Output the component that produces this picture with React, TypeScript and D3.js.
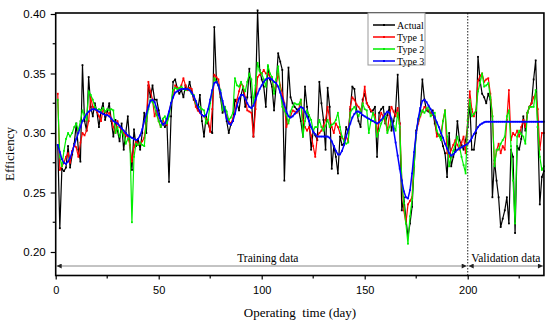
import React, { useRef, useEffect } from 'react';
import * as d3 from 'd3';

// daily values, day 1 .. 237
const actual = [
  0.29, 0.22, 0.27, 0.268, 0.271, 0.289, 0.271, 0.282, 0.291, 0.308,
  0.286, 0.276, 0.357, 0.31, 0.302, 0.347, 0.322, 0.314, 0.325, 0.318,
  0.305, 0.319, 0.325, 0.311, 0.318, 0.325, 0.31, 0.297, 0.311, 0.302,
  0.293, 0.308, 0.286, 0.3, 0.314, 0.29, 0.269, 0.303, 0.289, 0.295,
  0.286, 0.3, 0.317, 0.3, 0.34, 0.33, 0.34, 0.328, 0.328, 0.319,
  0.31, 0.308, 0.305, 0.308, 0.259, 0.314, 0.343, 0.345, 0.338, 0.333,
  0.336, 0.33, 0.34, 0.336, 0.343, 0.335, 0.328, 0.325, 0.319, 0.332,
  0.31, 0.297, 0.314, 0.308, 0.302, 0.3, 0.389, 0.345, 0.34, 0.33,
  0.317, 0.322, 0.31, 0.3, 0.307, 0.31, 0.328, 0.325, 0.319, 0.332,
  0.339, 0.322, 0.33, 0.354, 0.33, 0.297, 0.33, 0.403, 0.353, 0.345,
  0.339, 0.322, 0.356, 0.345, 0.339, 0.319, 0.34, 0.367, 0.36, 0.353,
  0.26, 0.316, 0.355, 0.33, 0.325, 0.322, 0.32, 0.319, 0.31, 0.297,
  0.339, 0.322, 0.31, 0.286, 0.302, 0.298, 0.294, 0.343, 0.325, 0.311,
  0.286, 0.338, 0.322, 0.27, 0.289, 0.28, 0.266, 0.297, 0.29, 0.291,
  0.305, 0.3, 0.32, 0.339, 0.337, 0.319, 0.31, 0.305, 0.328, 0.333,
  0.325, 0.322, 0.318, 0.319, 0.322, 0.28, 0.317, 0.32, 0.322, 0.308,
  0.315, 0.322, 0.302, 0.31, 0.319, 0.349, 0.308, 0.235, 0.246, 0.228,
  0.213, 0.224, 0.238, 0.272, 0.302, 0.31, 0.319, 0.345, 0.328, 0.319,
  0.318, 0.317, 0.319, 0.308, 0.3, 0.298, 0.297, 0.289, 0.283, 0.263,
  0.3, 0.272, 0.28, 0.286, 0.31, 0.294, 0.29, 0.286, 0.294, 0.305,
  0.325, 0.286, 0.286, 0.3, 0.364, 0.344, 0.333, 0.33, 0.325, 0.333,
  0.328, 0.246, 0.277, 0.26, 0.246, 0.221, 0.228, 0.235, 0.246, 0.224,
  0.286, 0.28, 0.216, 0.289, 0.286, 0.295, 0.314, 0.302, 0.317, 0.322,
  0.325, 0.345, 0.361, 0.305, 0.24, 0.263, 0.268,
];

const type1 = [
  0.333, 0.269, 0.272, 0.275, 0.28, 0.283, 0.275, 0.285, 0.29, 0.288,
  0.28, 0.292, 0.3, 0.298, 0.302, 0.31, 0.33, 0.322, 0.32, 0.318,
  0.314, 0.31, 0.32, 0.318, 0.315, 0.317, 0.312, 0.305, 0.3, 0.31,
  0.305, 0.302, 0.3, 0.298, 0.297, 0.29, 0.276, 0.288, 0.294, 0.29,
  0.291, 0.293, 0.296, 0.31, 0.343, 0.335, 0.328, 0.314, 0.319, 0.31,
  0.305, 0.311, 0.308, 0.307, 0.317, 0.325, 0.33, 0.34, 0.338, 0.337,
  0.34, 0.346, 0.34, 0.336, 0.338, 0.337, 0.33, 0.322, 0.319, 0.317,
  0.315, 0.314, 0.312, 0.311, 0.301, 0.32, 0.349, 0.347, 0.345, 0.333,
  0.325, 0.319, 0.314, 0.31, 0.308, 0.312, 0.317, 0.328, 0.335, 0.342,
  0.339, 0.33, 0.319, 0.318, 0.317, 0.297, 0.32, 0.347, 0.349, 0.35,
  0.353, 0.35, 0.35, 0.347, 0.345, 0.336, 0.34, 0.35, 0.34, 0.333,
  0.325, 0.305, 0.31, 0.314, 0.319, 0.318, 0.317, 0.32, 0.328, 0.311,
  0.305, 0.302, 0.305, 0.298, 0.289, 0.28, 0.297, 0.3, 0.302, 0.306,
  0.311, 0.322, 0.312, 0.305, 0.3, 0.308, 0.305, 0.3, 0.296, 0.294,
  0.297, 0.293, 0.322, 0.33, 0.328, 0.324, 0.322, 0.319, 0.325, 0.339,
  0.325, 0.322, 0.319, 0.317, 0.315, 0.3, 0.31, 0.317, 0.314, 0.31,
  0.302, 0.315, 0.322, 0.318, 0.314, 0.321, 0.308, 0.26, 0.235, 0.224,
  0.24, 0.243, 0.246, 0.28, 0.3, 0.308, 0.314, 0.318, 0.322, 0.32,
  0.319, 0.317, 0.315, 0.314, 0.297, 0.298, 0.3, 0.31, 0.319, 0.283,
  0.28, 0.286, 0.29, 0.294, 0.29, 0.286, 0.292, 0.297, 0.283, 0.31,
  0.335, 0.32, 0.314, 0.319, 0.344, 0.348, 0.35, 0.343, 0.345, 0.346,
  0.333, 0.314, 0.274, 0.285, 0.291, 0.283, 0.289, 0.286, 0.311, 0.336,
  0.294, 0.3, 0.298, 0.302, 0.297, 0.305, 0.311, 0.305, 0.317, 0.322,
  0.325, 0.33, 0.333, 0.32, 0.286, 0.3, 0.3,
];

const type2 = [
  0.328, 0.28, 0.272, 0.285, 0.295, 0.3, 0.297, 0.3, 0.305, 0.308,
  0.302, 0.31, 0.319, 0.315, 0.311, 0.335, 0.332, 0.328, 0.322, 0.319,
  0.32, 0.319, 0.321, 0.318, 0.32, 0.319, 0.32, 0.319, 0.3, 0.305,
  0.297, 0.302, 0.298, 0.291, 0.295, 0.297, 0.225, 0.28, 0.291, 0.29,
  0.292, 0.29, 0.289, 0.31, 0.32, 0.328, 0.326, 0.322, 0.315, 0.31,
  0.305, 0.312, 0.314, 0.308, 0.314, 0.325, 0.336, 0.338, 0.337, 0.338,
  0.339, 0.337, 0.336, 0.337, 0.336, 0.333, 0.332, 0.325, 0.322, 0.322,
  0.32, 0.319, 0.308, 0.311, 0.325, 0.335, 0.346, 0.343, 0.34, 0.336,
  0.319, 0.322, 0.318, 0.311, 0.313, 0.317, 0.346, 0.34, 0.339, 0.343,
  0.338, 0.335, 0.343, 0.35, 0.345, 0.325, 0.34, 0.359, 0.352, 0.35,
  0.345, 0.339, 0.357, 0.35, 0.347, 0.333, 0.345, 0.356, 0.335, 0.322,
  0.319, 0.315, 0.308, 0.318, 0.322, 0.325, 0.324, 0.324, 0.328, 0.297,
  0.31, 0.319, 0.315, 0.311, 0.302, 0.305, 0.305, 0.311, 0.305, 0.302,
  0.306, 0.311, 0.305, 0.307, 0.308, 0.311, 0.317, 0.305, 0.297, 0.293,
  0.291, 0.292, 0.317, 0.32, 0.322, 0.318, 0.314, 0.318, 0.325, 0.32,
  0.319, 0.3, 0.31, 0.317, 0.311, 0.297, 0.302, 0.308, 0.312, 0.314,
  0.3, 0.305, 0.311, 0.306, 0.302, 0.317, 0.305, 0.26, 0.241, 0.224,
  0.207, 0.23, 0.244, 0.272, 0.3, 0.311, 0.315, 0.319, 0.317, 0.32,
  0.322, 0.314, 0.316, 0.317, 0.302, 0.298, 0.294, 0.31, 0.319, 0.297,
  0.272, 0.28, 0.285, 0.291, 0.297, 0.289, 0.28, 0.273, 0.266, 0.311,
  0.328, 0.314, 0.316, 0.319, 0.335, 0.342, 0.35, 0.339, 0.34, 0.342,
  0.33, 0.314, 0.272, 0.286, 0.286, 0.291, 0.294, 0.297, 0.314, 0.319,
  0.289, 0.26, 0.224, 0.297, 0.302, 0.299, 0.297, 0.291, 0.317, 0.322,
  0.322, 0.322, 0.336, 0.305, 0.28, 0.269, 0.272,
];

const type3 = [
  0.29, 0.284, 0.278, 0.275, 0.274, 0.276, 0.279, 0.284, 0.29, 0.295,
  0.3, 0.305, 0.31, 0.313, 0.316, 0.318, 0.319, 0.32, 0.32, 0.319,
  0.318, 0.317, 0.316, 0.315, 0.315, 0.314, 0.312, 0.31, 0.309, 0.308,
  0.306, 0.304, 0.302, 0.3, 0.298, 0.297, 0.296, 0.295, 0.294, 0.295,
  0.298, 0.303, 0.31, 0.316, 0.322, 0.327, 0.328, 0.326, 0.321, 0.315,
  0.31, 0.307, 0.308, 0.312, 0.318, 0.325, 0.33, 0.334, 0.335, 0.336,
  0.337, 0.337, 0.337, 0.337, 0.336, 0.334, 0.331, 0.327, 0.322, 0.318,
  0.315, 0.314, 0.315, 0.32, 0.328, 0.336, 0.342, 0.343, 0.34, 0.334,
  0.327, 0.319, 0.312, 0.308, 0.307, 0.31, 0.316, 0.323, 0.329, 0.332,
  0.332, 0.329, 0.325, 0.322, 0.321, 0.323, 0.328, 0.333, 0.337, 0.34,
  0.343, 0.345, 0.346, 0.346, 0.345, 0.343, 0.342, 0.339, 0.334, 0.329,
  0.324, 0.318, 0.314, 0.313, 0.314, 0.316, 0.318, 0.32, 0.322, 0.321,
  0.318, 0.314, 0.31, 0.305, 0.301, 0.299, 0.297, 0.297, 0.297, 0.297,
  0.297, 0.297, 0.296, 0.293, 0.289, 0.285, 0.282, 0.282, 0.285, 0.29,
  0.297, 0.303, 0.308, 0.313, 0.316, 0.318, 0.318, 0.317, 0.315, 0.314,
  0.313, 0.312, 0.311, 0.31, 0.309, 0.308, 0.309, 0.311, 0.313, 0.316,
  0.318, 0.317, 0.312, 0.303, 0.292, 0.281, 0.27, 0.26, 0.251, 0.246,
  0.245, 0.252, 0.266, 0.284, 0.3, 0.312, 0.321, 0.327, 0.328, 0.326,
  0.323, 0.32, 0.317, 0.313, 0.309, 0.305, 0.3, 0.296, 0.291, 0.287,
  0.283, 0.281, 0.282, 0.284, 0.286, 0.287, 0.288, 0.289, 0.29, 0.291,
  0.293, 0.296, 0.299, 0.302, 0.305, 0.307, 0.308, 0.309, 0.3095, 0.3095,
  0.3095, 0.3095, 0.3095, 0.3095, 0.3095, 0.3095, 0.3095, 0.3095, 0.3095, 0.3095,
  0.3095, 0.3095, 0.3095, 0.3095, 0.3095, 0.3095, 0.3095, 0.3095, 0.3095, 0.3095,
  0.3095, 0.3095, 0.3095, 0.3095, 0.3095, 0.3095, 0.3095,
];

const seriesNames = ['Actual', 'Type 1', 'Type 2', 'Type 3'];
const seriesColors = ['#000000', '#ff0000', '#00ee00', '#0000ff'];
const xTicks = [0, 50, 100, 150, 200];
const xMinor = [25, 75, 125, 175, 225];
const yTicks = [0.2, 0.25, 0.3, 0.35, 0.4];
const yMinor = [0.225, 0.275, 0.325, 0.375];
const splitDay = 200;
const lastDay = 237;

const serif = '"Liberation Serif", "Times New Roman", serif';
const sans = '"Liberation Sans", Arial, sans-serif';

const App = () => {
  const ref = useRef(null);

  useEffect(() => {
    if (!ref.current) return;
    const svg = d3.select(ref.current);
    svg.selectAll('*').remove();

    const x = d3.scaleLinear().domain([0, 200]).range([55.7, 467.7]);
    const y = d3.scaleLinear().domain([0.2, 0.4]).range([252, 14]);
    const left = x(0), right = x(lastDay), top = 13, bottom = 275.5;

    const defs = svg.append('defs');
    defs.append('marker')
      .attr('id', 'arr')
      .attr('viewBox', '0 0 10 10')
      .attr('refX', 10).attr('refY', 5)
      .attr('markerWidth', 7).attr('markerHeight', 5)
      .attr('markerUnits', 'userSpaceOnUse')
      .attr('orient', 'auto-start-reverse')
      .append('path')
      .attr('d', 'M0,0 L10,5 L0,10 z')
      .attr('fill', '#222');

    // series
    const all = [actual, type1, type2, type3];
    const line = d3.line<number>()
      .x((d, i) => x(i + 1))
      .y(d => y(d));

    all.forEach((vals, k) => {
      svg.append('path')
        .datum(vals)
        .attr('fill', 'none')
        .attr('stroke', seriesColors[k])
        .attr('stroke-width', k === 3 ? 1.5 : 1.2)
        .attr('stroke-linejoin', 'round')
        .attr('d', line);
      svg.append('g')
        .selectAll('rect')
        .data(vals)
        .enter()
        .append('rect')
        .attr('x', (d, i) => x(i + 1) - 0.9)
        .attr('y', d => y(d) - 0.9)
        .attr('width', 1.8)
        .attr('height', 1.8)
        .attr('fill', seriesColors[k]);
    });

    // split line
    svg.append('line')
      .attr('x1', x(splitDay)).attr('x2', x(splitDay))
      .attr('y1', top).attr('y2', bottom)
      .attr('stroke', '#444')
      .attr('stroke-width', 1.2)
      .attr('stroke-dasharray', '1.5,1.5');

    // data range arrows
    const arrowY = 266;
    [[0, splitDay], [splitDay, lastDay]].forEach(([a, b]) => {
      svg.append('line')
        .attr('x1', x(a) + 1).attr('x2', x(b) - 1)
        .attr('y1', arrowY).attr('y2', arrowY)
        .attr('stroke', '#888')
        .attr('stroke-width', 1)
        .attr('marker-start', 'url(#arr)')
        .attr('marker-end', 'url(#arr)');
    });
    svg.append('text')
      .attr('x', x(103)).attr('y', 262)
      .attr('text-anchor', 'middle')
      .attr('font-family', serif).attr('font-size', 11.5)
      .text('Training data');
    svg.append('text')
      .attr('x', x(218.5)).attr('y', 262)
      .attr('text-anchor', 'middle')
      .attr('font-family', serif).attr('font-size', 11.5)
      .text('Validation data');

    // frame
    svg.append('rect')
      .attr('x', left).attr('y', top)
      .attr('width', right - left).attr('height', bottom - top)
      .attr('fill', 'none')
      .attr('stroke', '#000')
      .attr('stroke-width', 1.6);

    // axes
    const xAxis = svg.append('g')
      .attr('transform', `translate(0,${bottom})`)
      .call(d3.axisBottom(x).tickValues(xTicks).tickSize(4).tickPadding(7).tickFormat(d3.format('d')));
    xAxis.select('.domain').remove();
    xAxis.selectAll('line').attr('stroke-width', 1.2);
    xAxis.selectAll('text').attr('font-family', sans).attr('font-size', 11).attr('fill', '#000');
    svg.append('g').selectAll('line').data(xMinor).enter().append('line')
      .attr('x1', d => x(d)).attr('x2', d => x(d))
      .attr('y1', bottom).attr('y2', bottom + 3)
      .attr('stroke', '#000').attr('stroke-width', 1.2);

    const yAxis = svg.append('g')
      .attr('transform', `translate(${left},0)`)
      .call(d3.axisLeft(y).tickValues(yTicks).tickSize(5).tickPadding(5).tickFormat(d3.format('.2f')));
    yAxis.select('.domain').remove();
    yAxis.selectAll('line').attr('stroke-width', 1.2);
    yAxis.selectAll('text').attr('font-family', sans).attr('font-size', 11.5).attr('fill', '#000');
    svg.append('g').selectAll('line').data(yMinor).enter().append('line')
      .attr('x1', left - 3).attr('x2', left)
      .attr('y1', d => y(d)).attr('y2', d => y(d))
      .attr('stroke', '#000').attr('stroke-width', 1.2);

    svg.append('text')
      .attr('transform', 'translate(14,154) rotate(-90)')
      .attr('text-anchor', 'middle')
      .attr('font-family', serif).attr('font-size', 13)
      .text('Efficiency');
    svg.append('text')
      .attr('x', 300).attr('y', 317)
      .attr('text-anchor', 'middle')
      .attr('font-family', serif).attr('font-size', 13)
      .style('white-space', 'pre')
      .text('Operating  time (day)');

    // legend
    const lg = svg.append('g').attr('transform', 'translate(368,13)');
    lg.append('rect')
      .attr('width', 57).attr('height', 52)
      .attr('fill', '#fff')
      .attr('stroke', '#999')
      .attr('stroke-width', 1);
    seriesNames.forEach((name, k) => {
      const ly = 12 + k * 12;
      lg.append('line')
        .attr('x1', 5).attr('x2', 27)
        .attr('y1', ly).attr('y2', ly)
        .attr('stroke', seriesColors[k])
        .attr('stroke-width', 1.5);
      lg.append('rect')
        .attr('x', 15).attr('y', ly - 1)
        .attr('width', 2).attr('height', 2)
        .attr('fill', seriesColors[k]);
      lg.append('text')
        .attr('x', 29).attr('y', ly + 3.5)
        .attr('font-family', serif).attr('font-size', 10)
        .text(name);
    });
  }, []);

  return (
    <svg
      ref={ref}
      width={550}
      height={322}
      style={{ position: 'absolute', left: 0, top: 0, background: '#fff' }}
    />
  );
};

export default App;
